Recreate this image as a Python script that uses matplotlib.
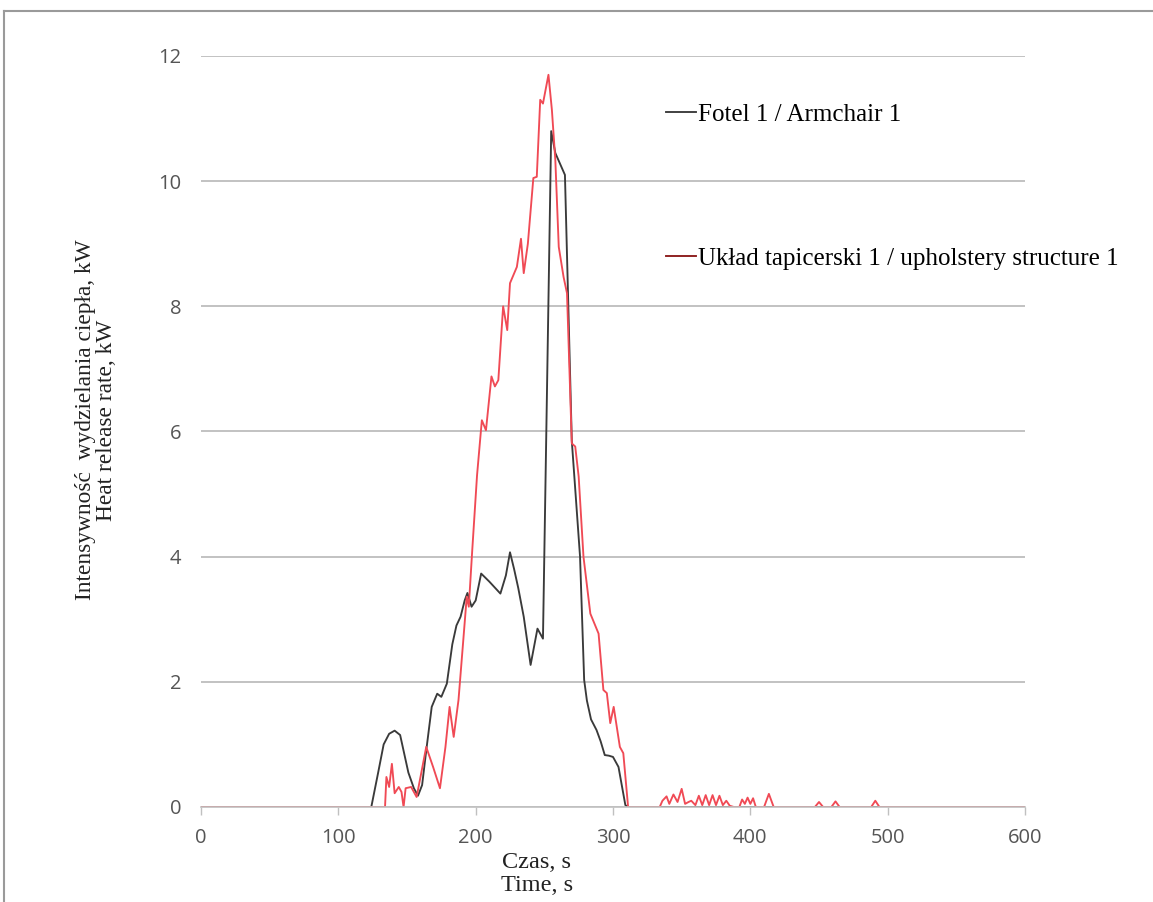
import numpy as np
import matplotlib
matplotlib.use('Agg')
import matplotlib.pyplot as plt
from matplotlib.lines import Line2D

# Fotel 1 / Armchair 1
t_fotel = [0, 124, 129, 133, 137, 141, 145, 148, 151, 155, 158, 161, 164, 168, 172, 175,
           179, 183, 186, 189, 192, 194, 197, 200, 204, 210, 218, 222, 225, 228, 231, 235,
           240, 245, 249, 255, 258, 261, 265, 270, 276, 279, 281, 284, 288, 291, 294, 297,
           300, 304, 309, 311, 600]
hrr_fotel = [0, 0, 0.55, 1.0, 1.17, 1.22, 1.15, 0.85, 0.55, 0.3, 0.18, 0.35, 0.9, 1.6, 1.81, 1.76,
             1.97, 2.6, 2.9, 3.04, 3.3, 3.42, 3.2, 3.3, 3.73, 3.6, 3.41, 3.7, 4.07, 3.8, 3.5, 3.04,
             2.27, 2.85, 2.69, 10.8, 10.45, 10.3, 10.1, 5.85, 4.0, 2.03, 1.7, 1.4, 1.23, 1.05, 0.83, 0.82,
             0.8, 0.64, 0.03, 0.0, 0.0]

# Uklad tapicerski 1 / upholstery structure 1
t_uklad = [0, 134, 135, 137, 139, 141, 144, 146, 147.5, 149, 153, 157, 160, 164, 169, 174,
           178, 181, 184, 187.5, 191, 193.5, 195, 197.5, 201, 204.5, 207.5, 211.5, 214, 216.5,
           220, 223, 225, 230, 233, 235, 238, 242, 244.5, 247, 249, 253, 255.5, 258, 260.5,
           264, 266.5, 270, 272.5, 275, 278.5, 283.5, 289.5, 293, 295.5, 298, 300.5, 305, 307.5, 311,
           334, 336, 339, 341, 344, 347, 350, 352.5, 355, 357, 360, 362.5, 365, 367.5, 370,
           372.5, 375, 377.5, 380, 382.5, 385, 388, 392, 394, 396, 398, 400, 402, 404, 410,
           413.5, 417, 447, 450, 453, 459, 462, 465, 488, 491, 494, 600]
hrr_uklad = [0, 0, 0.48, 0.32, 0.69, 0.22, 0.32, 0.24, 0, 0.3, 0.32, 0.16, 0.5, 0.96, 0.64, 0.3,
             0.96, 1.6, 1.12, 1.71, 2.67, 3.36, 3.2, 4.1, 5.3, 6.18, 6.02, 6.88, 6.72, 6.82,
             8.0, 7.62, 8.37, 8.63, 9.08, 8.53, 9.0, 10.05, 10.07, 11.3, 11.24, 11.7, 11.14, 10.34, 8.95,
             8.47, 8.21, 5.81, 5.76, 5.28, 4.0, 3.09, 2.77, 1.87, 1.82, 1.34, 1.6, 0.96, 0.86, 0,
             0, 0.1, 0.17, 0.05, 0.2, 0.08, 0.29, 0.05, 0.08, 0.1, 0.03, 0.18, 0.03, 0.19, 0.03,
             0.19, 0.03, 0.18, 0.03, 0.1, 0.02, 0.0, 0.0, 0.12, 0.05, 0.15, 0.05, 0.14, 0.0, 0.0,
             0.21, 0.0, 0.0, 0.08, 0.0, 0.0, 0.09, 0.0, 0.0, 0.1, 0.0, 0.0]

x_ticks = [0, 100, 200, 300, 400, 500, 600]
y_ticks = [0, 2, 4, 6, 8, 10, 12]

W, H = 1153, 902
fig = plt.figure(figsize=(W / 100, H / 100), dpi=100)
ax = fig.add_axes([201 / W, 1 - 807 / H, (1025 - 201) / W, (807 - 56) / H])

serif = 'Liberation Serif'
tick_font = 'Open Sans'

ax.plot(t_fotel, hrr_fotel, color='#3a3a3a', lw=1.35, label='Fotel 1 / Armchair 1')
ax.plot(t_uklad, hrr_uklad, color='#f04a55', lw=1.35, label='Układ tapicerski 1 / upholstery structure 1')

ax.set_xlim(0, 600)
ax.set_ylim(0, 12)
ax.set_xticks(x_ticks)
ax.set_yticks(y_ticks)
ax.yaxis.grid(True, color='#b8b8b8', lw=1.2)
ax.set_axisbelow(True)
for s in ['top', 'right', 'left']:
    ax.spines[s].set_visible(False)
ax.spines['bottom'].set_color('#c0c0c0')
ax.spines['bottom'].set_linewidth(1.2)
ax.tick_params(axis='y', length=0, pad=14, labelsize=14.5, labelcolor='#555555')
ax.tick_params(axis='x', length=6, direction='out', color='#c0c0c0', width=1.0,
               pad=9, labelsize=14.5, labelcolor='#555555')
for lab in ax.get_xticklabels() + ax.get_yticklabels():
    lab.set_fontfamily(tick_font)

leg = ax.legend(loc='upper left', bbox_to_anchor=(0.537, 0.967), frameon=False,
                prop={'family': serif, 'size': 18}, handlelength=1.2, handletextpad=0.08,
                labelspacing=4.85)
leg.legend_handles[0].set_color('#3a3a3a')
leg.legend_handles[1].set_color('#8b1a1a')

fig.text(96 / W, 1 - 420 / H, 'Intensywność  wydzielania ciepła, kW\nHeat release rate, kW',
         rotation=90, ha='center', va='center', family=serif, fontsize=16.8,
         linespacing=1.0, color='#222222')
fig.text(537 / W, 1 - 874 / H, 'Czas, s\nTime, s', ha='center', va='center',
         family=serif, fontsize=17.5, linespacing=1.1, color='#222222')

# outer frame of the original figure
fig.add_artist(Line2D([4 / W, 1], [1 - 11 / H, 1 - 11 / H], transform=fig.transFigure,
                      color='#9a9a9a', lw=1.5))
fig.add_artist(Line2D([4 / W, 4 / W], [0, 1 - 11 / H], transform=fig.transFigure,
                      color='#9a9a9a', lw=1.5))

fig.savefig('out.png', dpi=100)
